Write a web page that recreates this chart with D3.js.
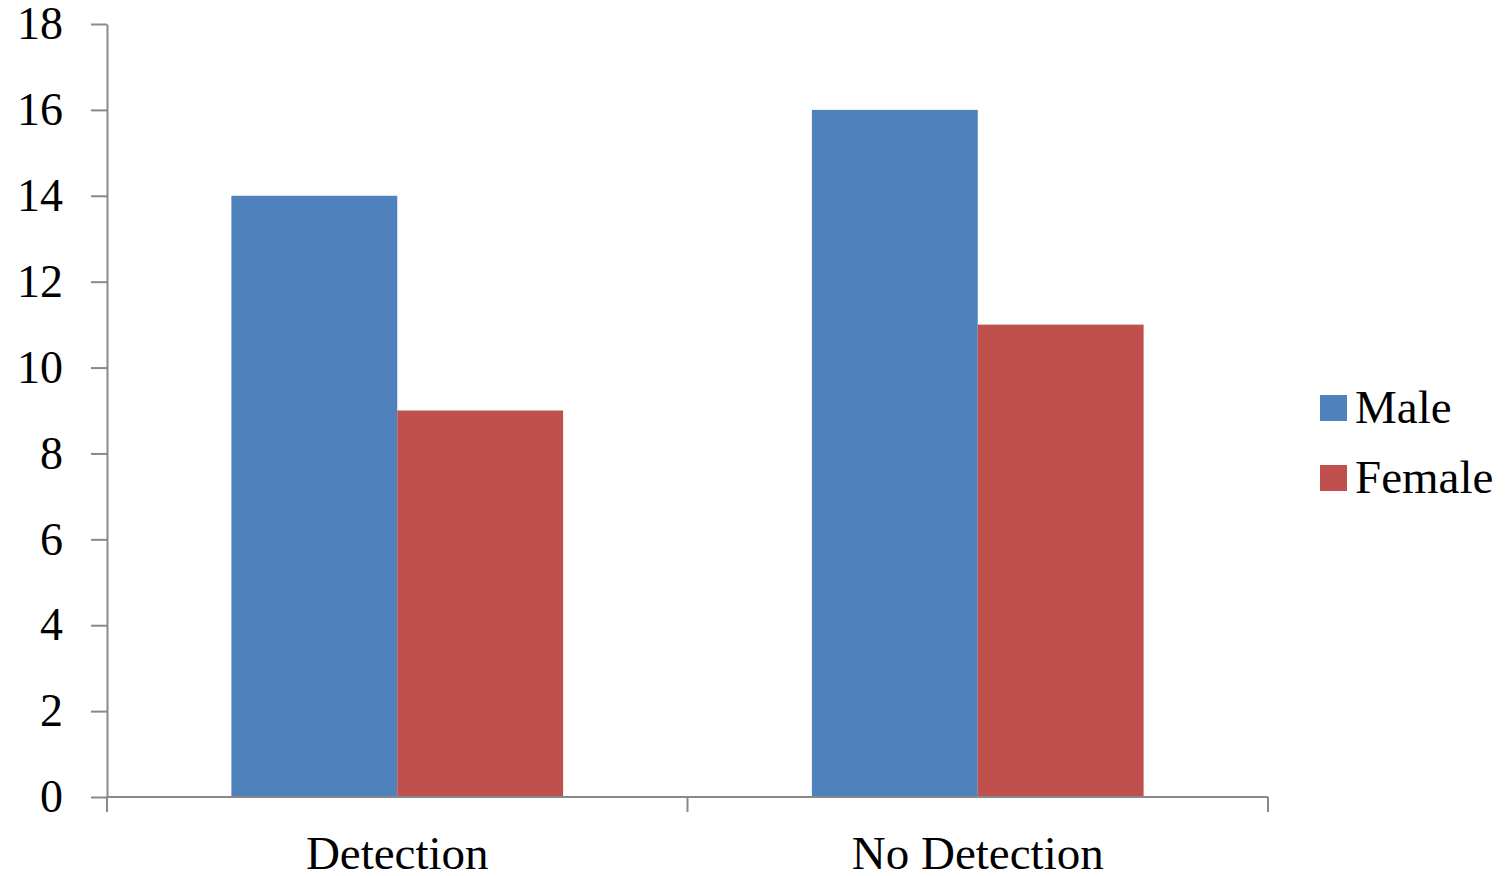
<!DOCTYPE html>
<html>
<head>
<meta charset="utf-8">
<script src="https://cdn.jsdelivr.net/npm/d3@7"></script>
<style>
  html, body { margin: 0; padding: 0; background: #fff; }
  svg { display: block; }
  text { font-family: "Liberation Serif", "Times New Roman", serif; fill: #000; }
</style>
</head>
<body>
<svg id="chart" width="1507" height="876"></svg>
<script>
const categories = ["Detection", "No Detection"];
const seriesNames = ["Male", "Female"];
const maleValues = [14, 16];
const femaleValues = [9, 11];
const yTicks = [0, 2, 4, 6, 8, 10, 12, 14, 16, 18];
const colors = ["#4F81BD", "#C0504D"];

(function () {
const seriesValues = [maleValues, femaleValues];
const svg = d3.select("#chart");

const mLeft = 107, mRight = 1268, mTop = 24, mBottom = 797;

const x = d3.scaleBand().domain(categories).range([mLeft, mRight]).paddingInner(0).paddingOuter(0);
const xs = d3.scaleBand().domain(seriesNames).range([0, x.bandwidth()]).paddingInner(0).paddingOuter(0.75);
const y = d3.scaleLinear().domain([0, 18]).range([mBottom, mTop]);

const axisColor = "#898989";

// bars
categories.forEach((cat, ci) => {
  seriesNames.forEach((s, si) => {
    svg.append("rect")
      .attr("x", x(cat) + xs(s))
      .attr("y", y(seriesValues[si][ci]))
      .attr("width", xs.bandwidth())
      .attr("height", y(0) - y(seriesValues[si][ci]))
      .attr("fill", colors[si]);
  });
});

// y axis
const yAxis = d3.axisLeft(y).tickValues(yTicks).tickSize(16).tickPadding(28).tickSizeOuter(0);
const gy = svg.append("g").attr("transform", `translate(${mLeft},0)`).call(yAxis);
gy.select(".domain").attr("stroke", axisColor).attr("stroke-width", 2);
gy.selectAll(".tick line").attr("stroke", axisColor).attr("stroke-width", 2);
gy.selectAll(".tick text").style("font-size", "46px").style("font-family", "'Liberation Serif', serif").attr("fill", "#000");

// x axis
const gx = svg.append("g").attr("transform", `translate(0,${mBottom})`);
gx.append("line").attr("x1", mLeft).attr("x2", mRight).attr("y1", 0).attr("y2", 0)
  .attr("stroke", axisColor).attr("stroke-width", 2);
const boundaries = [mLeft, ...categories.map(c => x(c) + x.bandwidth())];
gx.selectAll("line.tk").data(boundaries).enter().append("line").attr("class", "tk")
  .attr("x1", d => d).attr("x2", d => d).attr("y1", 0).attr("y2", 15)
  .attr("stroke", axisColor).attr("stroke-width", 2);
gx.selectAll("text.cat").data(categories).enter().append("text").attr("class", "cat")
  .attr("x", d => x(d) + x.bandwidth() / 2)
  .attr("y", 72)
  .attr("text-anchor", "middle")
  .style("font-size", "47px")
  .text(d => d);

// legend
const legend = svg.append("g").attr("transform", "translate(1320,395)");
seriesNames.forEach((s, i) => {
  const g = legend.append("g").attr("transform", `translate(0,${i * 70})`);
  g.append("rect").attr("x", 0).attr("y", 0).attr("width", 27).attr("height", 26).attr("fill", colors[i]);
  g.append("text").attr("x", 35).attr("y", 28).style("font-size", "47px").text(s);
});
})();
</script>
</body>
</html>
